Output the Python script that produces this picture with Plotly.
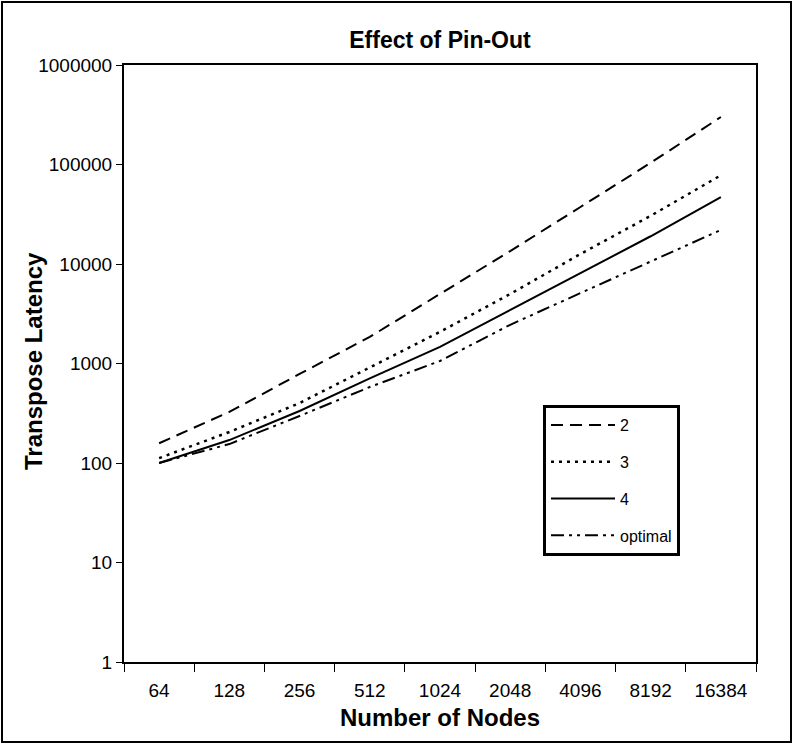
import plotly.graph_objects as go

nodes = ["64", "128", "256", "512", "1024", "2048", "4096", "8192", "16384"]
pin2 = [158, 326, 785, 1850, 5000, 13500, 37400, 104000, 300000]
pin3 = [112, 205, 400, 915, 2080, 5000, 12600, 30500, 78000]
pin4 = [100, 170, 333, 710, 1470, 3460, 8100, 19000, 47000]
optimal = [100, 155, 297, 580, 1060, 2450, 5100, 10500, 22000]

y_ticks = [1, 10, 100, 1000, 10000, 100000, 1000000]
y_ticktext = ["1", "10", "100", "1000", "10000", "100000", "1000000"]

FONT = "Liberation Sans, Arial, sans-serif"

series = [
    ("2", pin2, "12px,7px", 2),
    ("3", pin3, "3px,5px", 2.5),
    ("4", pin4, "solid", 2),
    ("optimal", optimal, "13px,5px,3px,5px,3px,5px", 2),
]

fig = go.Figure()
for i, (name, vals, dash, w) in enumerate(series):
    fig.add_trace(go.Scatter(
        x=nodes, y=vals, name=name, mode="lines",
        line=dict(color="black", width=w, dash=dash),
        legendgroup=f"g{i}",
    ))

W, H = 793, 744
L, R, T, B = 124, 37, 65, 82
pw, ph = W - L - R, H - T - B

fig.update_layout(
    width=W, height=H,
    margin=dict(l=L, r=R, t=T, b=B),
    paper_bgcolor="white", plot_bgcolor="white",
    font=dict(family=FONT, color="black", size=19),
    title=dict(text="<b>Effect of Pin-Out</b>", x=(L + pw / 2) / W, xanchor="center",
               y=1 - 40 / H, yanchor="middle", yref="container",
               font=dict(size=23, family=FONT, color="black")),
    showlegend=True,
    legend=dict(x=(543 - L) / pw, y=(662 - 405) / ph, xanchor="left", yanchor="top",
                bordercolor="black", borderwidth=3, bgcolor="white",
                font=dict(size=16, family=FONT, color="black"),
                tracegroupgap=13, itemwidth=64),
    xaxis=dict(
        type="category", range=[-0.5, 8.5], tickson="boundaries",
        ticks="outside", ticklen=8, tickwidth=1, tickcolor="black",
        ticklabelstandoff=10,
        showline=True, linecolor="black", linewidth=2, mirror=True,
        showgrid=False, zeroline=False,
        tickfont=dict(size=19),
        title=dict(text="<b>Number of Nodes</b>", font=dict(size=24), standoff=9),
    ),
    yaxis=dict(
        type="log", range=[0, 6], tickvals=y_ticks, ticktext=y_ticktext,
        ticks="outside", ticklen=6, tickwidth=1, tickcolor="black",
        showline=True, linecolor="black", linewidth=2, mirror=True,
        showgrid=False, zeroline=False,
        tickfont=dict(size=19),
    ),
)

fig.add_annotation(text="<b>Transpose Latency</b>", textangle=-90,
                   xref="paper", yref="paper", x=(33 - L) / pw, y=(662 - 361) / ph,
                   xanchor="center", yanchor="middle", showarrow=False,
                   font=dict(size=24, family=FONT, color="black"))

fig.add_shape(type="rect", xref="paper", yref="paper",
              x0=(2 - L) / pw, x1=(W - 2 - L) / pw,
              y0=-(H - 2 - (H - B)) / ph, y1=(H - B - 2) / ph,
              line=dict(color="black", width=2), layer="below")

fig.write_html("out.html", config={"displayModeBar": False},
               post_script="document.body.style.margin='0';")
